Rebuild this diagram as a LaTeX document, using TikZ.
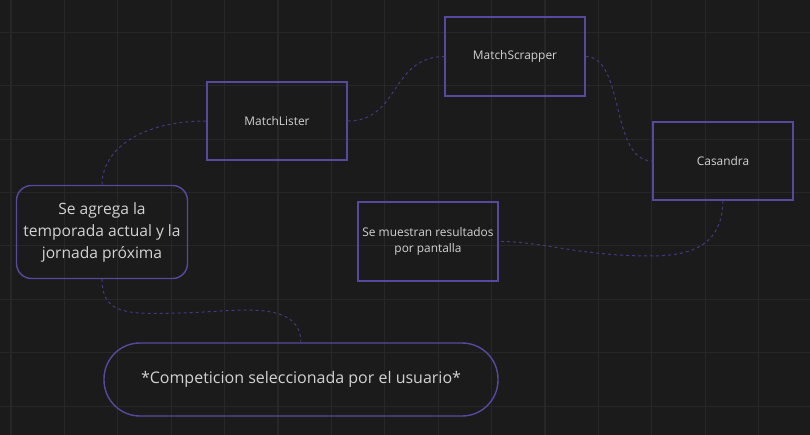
\documentclass[tikz,border=0pt]{standalone}
\usepackage{fontspec}
\setmainfont{Open Sans}
\usepackage{tikz}
\usetikzlibrary{positioning}
\definecolor{bgdark}{HTML}{1B1B1B}
\definecolor{gridgray}{HTML}{272727}
\definecolor{boxline}{HTML}{574A9E}
\definecolor{dashline}{HTML}{43397F}
\definecolor{textgray}{HTML}{D2D2D2}

\begin{document}
\begin{tikzpicture}[x=1pt,y=-1pt,
  sqbox/.style={draw=boxline,line width=1.4pt,text=textgray,align=center,inner sep=0pt,
    minimum width=140pt,minimum height=78pt,font=\fontsize{11.9}{16.5}\selectfont},
  roundbox/.style={sqbox,rounded corners=15pt,font=\fontsize{15.6}{22}\selectfont},
  link/.style={dashline,line width=1pt,dash pattern=on 3pt off 3pt}]
 \fill[bgdark] (0,0) rectangle (810,435);
 \useasboundingbox (0,0) rectangle (810,435);
 \foreach \gx in {0,...,14}
   \draw[gridgray,line width=1.1pt] ({11+53.4*\gx},0) -- ({11+53.4*\gx},435);
 \foreach \gy in {0,...,7}
   \draw[gridgray,line width=1.1pt] (0,{32.3+53.4*\gy}) -- (810,{32.3+53.4*\gy});

 \node[sqbox] (lister) at (277,121) {MatchLister};
 \node[sqbox,minimum height=79pt] (scrapper) at (515,56.5) {MatchScrapper};
 \node[sqbox] (casandra) at (723,161) {Casandra};
 \node[sqbox,minimum height=79pt] (muestran) at (428,241.5) {Se muestran resultados\\por pantalla};
 \node[roundbox,minimum width=171pt,minimum height=93pt] (agrega) at (102,232)
   {Se agrega la\\temporada actual y la\\jornada próxima};
 \node[roundbox,font=\fontsize{16}{22}\selectfont,rounded corners=36pt,minimum width=394pt,minimum height=73pt] (comp) at (301,379.5)
   {*Competicion seleccionada por el usuario*};

 \draw[link] (lister.west) .. controls (140,121) and (102,150) .. (agrega.north);
 \draw[link] (lister.east) .. controls (400,121) and (390,57) .. (scrapper.west);
 \draw[link] (scrapper.east) .. controls (625,57) and (610,161) .. (casandra.west);
 \draw[link] (casandra.south) .. controls (722,240) and (700,256) .. (650,256)
   .. controls (580,256) and (540,241) .. (muestran.east);
 \draw[link] (agrega.south) .. controls (102,316) and (130,314) .. (180,313)
   .. controls (235,312) and (300,298) .. (comp.north);
\end{tikzpicture}
\end{document}
